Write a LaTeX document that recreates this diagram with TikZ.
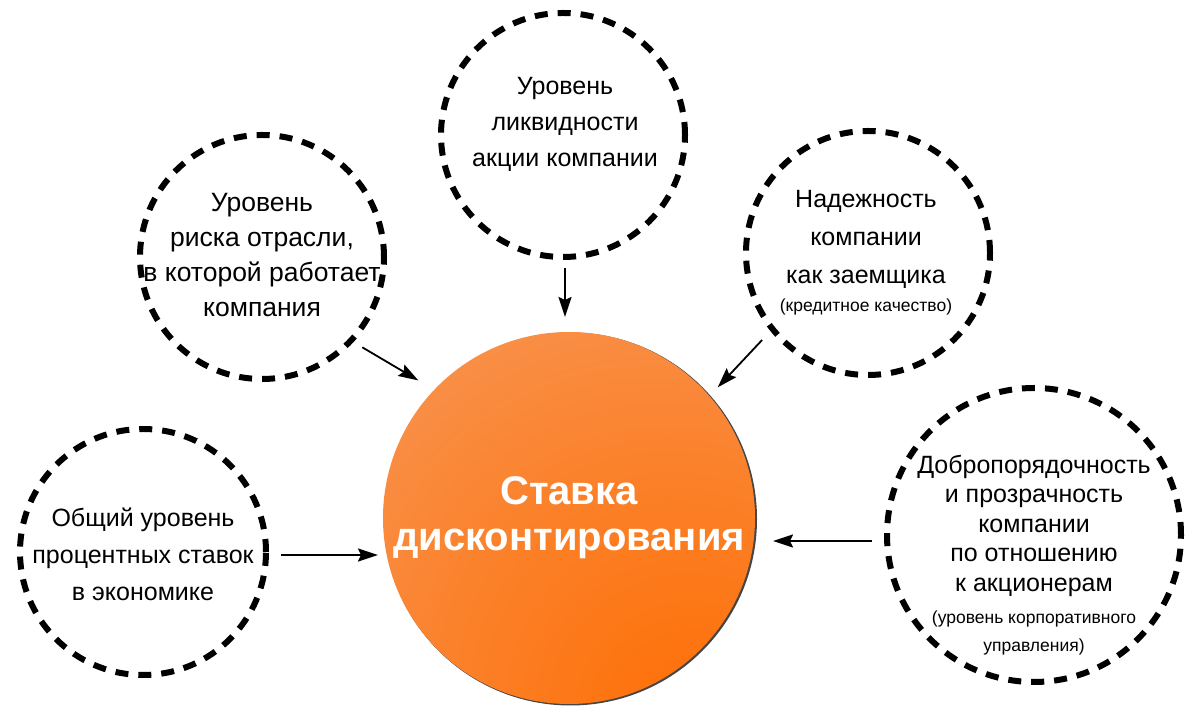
\documentclass[tikz,border=0pt]{standalone}
\usepackage{fontspec}
\setmainfont{Liberation Sans}
\usetikzlibrary{arrows.meta,calc}
\definecolor{spot}{RGB}{255,108,0}
\definecolor{oa}{RGB}{251,128,40}
\definecolor{ob}{RGB}{248,148,82}
\definecolor{oc}{RGB}{247,163,110}
\definecolor{od}{RGB}{246,176,130}
\definecolor{rimc}{RGB}{70,70,70}
\pgfdeclareradialshading{orb}{\pgfpoint{20bp}{-33bp}}{color(0bp)=(spot); color(28bp)=(oa); color(52bp)=(ob); color(72bp)=(oc); color(92bp)=(od)}
\begin{document}
\begin{tikzpicture}[x=1pt,y=1pt,
  dcirc/.style={circle,draw=black,line width=6pt,dash pattern=on 13pt off 10pt,minimum size=#1,inner sep=0pt},
  lbl/.style={align=center,font=\fontsize{25}{#1}\selectfont,inner sep=0pt,text=black},
  arr/.style={line width=1.8pt,draw=black,-{Stealth[length=20pt,width=13pt,inset=3pt]}}]
\useasboundingbox (0,0) rectangle (1200,720);
% central circle
\node[circle,fill=rimc,minimum size=373,inner sep=0pt] (cs) at (570.5,201) {};
\node[circle,shading=orb,minimum size=372,inner sep=0pt,align=center,text=white,
  font=\fontsize{40}{46}\selectfont\bfseries] (c) at (569,202) {Ставка\\дисконтирования};
% dashed circles
\node[dcirc=244] (ul) at (262,463) {};
\node[dcirc=244] (t) at (563,585) {};
\node[dcirc=244] (ur) at (868,467) {};
\node[dcirc=246] (l) at (143,168) {};
\node[dcirc=294] (r) at (1034,185) {};
% texts
\node[lbl=35,font=\fontsize{26.5}{35}\selectfont] (ult) at (262,465) {Уровень\\риска отрасли,\\в которой работает\\компания};
\node[lbl=36] (tt) at (565,596) {Уровень\\ликвидности\\акции компании};
\node[lbl=38] (urt) at (866,467) {Надежность\\компании\\как заемщика\\[-10pt]{\fontsize{17.5}{22}\selectfont(кредитное качество)}};
\node[lbl=37] (lt) at (143,166) {Общий уровень\\процентных ставок\\в экономике};
\node[lbl=29.5] (rt) at (1034,165) {Добропорядочность\\и прозрачность\\компании\\по отношению\\к акционерам\\[3pt]{\fontsize{17.5}{22}\selectfont(уровень корпоративного}\\[-2pt]{\fontsize{17.5}{22}\selectfont управления)}};
% arrows
\draw[arr] ($(ul.center)+(-42:135)$) -- ($(c.center)+(137.6:204)$);
\draw[arr] ($(t.center)+(2,-133)$) -- ($(c.center)+(-4,201)$);
\draw[arr] ($(ur.center)+(219.4:137)$) -- ($(c.center)+(41.3:198)$);
\draw[arr] ($(r.center)+(-162,-6)$) -- ($(c.center)+(204,-23)$);
\draw[arr] ($(l.center)+(138,-3)$) -- ($(c.center)+(-191,-37)$);
\end{tikzpicture}
\end{document}
